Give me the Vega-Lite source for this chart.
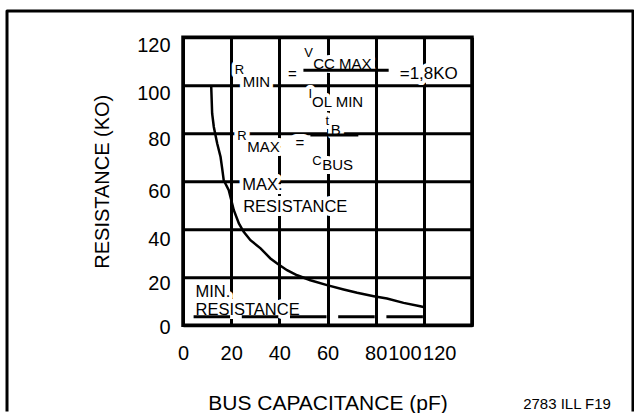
{
  "$schema": "https://vega.github.io/schema/vega-lite/v6.json",
  "width": 289,
  "height": 288,
  "padding": {"left": 5, "top": 9.2, "right": 0, "bottom": 0},
  "background": "white",
  "config": {
    "font": "Liberation Sans",
    "view": {"stroke": "black", "strokeWidth": 3.5},
    "text": {"font": "Liberation Sans"}
  },
  "datasets": {
    "curve": [
      {"c": 11.7, "r": 100}, {"c": 11.8, "r": 97}, {"c": 12.1, "r": 88.2}, {"c": 12.8, "r": 82.6},
      {"c": 14.2, "r": 75.7}, {"c": 15.6, "r": 70.1}, {"c": 16.3, "r": 65}, {"c": 16.9, "r": 60.4},
      {"c": 19, "r": 56.3}, {"c": 21.1, "r": 47.9}, {"c": 23.2, "r": 42.4}, {"c": 25.2, "r": 38.9},
      {"c": 28, "r": 35.4}, {"c": 32.2, "r": 32}, {"c": 36.3, "r": 27.8}, {"c": 39.1, "r": 25.7},
      {"c": 43.2, "r": 22.9}, {"c": 47.4, "r": 20.8}, {"c": 52.9, "r": 18.75}, {"c": 59.8, "r": 16.7},
      {"c": 66.7, "r": 14.9}, {"c": 72.3, "r": 13.5}, {"c": 79.2, "r": 12.1}, {"c": 84.7, "r": 11.1},
      {"c": 91.6, "r": 9.3}, {"c": 98.5, "r": 7.9}, {"c": 99.8, "r": 7.6}
    ],
    "minline": [{"c": 4.4, "r": 3.5}, {"c": 100.2, "r": 3.5}],
    "bars": [
      {"c": 50.0, "c2": 85.4, "r": 106.25},
      {"c": 52.9, "c2": 72.8, "r": 79.2}
    ],
    "frame": [
      {"c": -73.08, "r": -36, "k": 0},
      {"c": -73.08, "r": 130.96, "k": 1},
      {"c": 186.85, "r": 130.96, "k": 2},
      {"c": 186.85, "r": -36, "k": 3}
    ],
    "notes": [
      {"text": "R", "c": 21.5, "r": 104.6, "role": "sym"},
      {"text": "MIN", "c": 24.8, "r": 99.3, "role": "sub"},
      {"text": "=", "c": 43.6, "r": 102.5, "role": "eq"},
      {"text": "V", "c": 50.3, "r": 111.9, "role": "sym"},
      {"text": "CC MAX", "c": 54.1, "r": 106.7, "role": "sub"},
      {"text": "I", "c": 52.1, "r": 94.6, "role": "sym"},
      {"text": "OL MIN", "c": 53.6, "r": 91, "role": "sub"},
      {"text": "=1,8KO", "c": 90, "r": 102.4, "role": "val"},
      {"text": "R", "c": 22.5, "r": 77.1, "role": "sym"},
      {"text": "MAX", "c": 26.7, "r": 72.2, "role": "sub"},
      {"text": "=", "c": 46.7, "r": 73.9, "role": "eq"},
      {"text": "t", "c": 59.2, "r": 83.3, "role": "sym"},
      {"text": "B", "c": 61.3, "r": 79.2, "role": "sub"},
      {"text": "C", "c": 53.7, "r": 66.7, "role": "sym"},
      {"text": "BUS", "c": 57.8, "r": 64.6, "role": "sub"},
      {"text": "MAX.", "c": 24.6, "r": 56.25, "role": "lbl"},
      {"text": "RESISTANCE", "c": 25, "r": 47.2, "role": "lbl"},
      {"text": "MIN.", "c": 5.2, "r": 11.8, "role": "lbl"},
      {"text": "RESISTANCE", "c": 5.2, "r": 4.2, "role": "lbl"}
    ],
    "ref": [
      {"text": "2783 ILL F19", "c": 177.7, "r": -35}
    ]
  },
  "encoding": {
    "x": {
      "field": "c", "type": "quantitative", "title": "BUS CAPACITANCE (pF)",
      "scale": {"domain": [0, 120], "nice": false, "zero": true},
      "axis": {
        "values": [0, 20, 40, 60, 80, 100, 120], "format": "d",
        "grid": true, "gridColor": "black", "gridWidth": 3, "gridOpacity": 1,
        "domain": false, "ticks": false,
        "labelFontSize": 20, "labelColor": "black", "labelPadding": 18,
        "labelFlush": false, "labelOverlap": false, "labelBound": false,
        "labelOffset": {"condition": [{"test": "datum.value == 100", "value": -19.5}, {"test": "datum.value == 120", "value": -32.7}], "value": 0},
        "titleFontSize": 21, "titleFontWeight": "normal", "titleColor": "black", "titlePadding": 29
      }
    },
    "y": {
      "field": "r", "type": "quantitative", "title": "RESISTANCE (KO)",
      "scale": {"domain": [0, 120], "nice": false, "zero": true},
      "axis": {
        "values": [0, 20, 40, 60, 80, 100, 120], "format": "d",
        "grid": true, "gridColor": "black", "gridWidth": 3, "gridOpacity": 1,
        "domain": false, "ticks": false,
        "labelFontSize": 20, "labelColor": "black", "labelPadding": 13,
        "labelOverlap": false, "labelBound": false, "labelFlush": false,
        "labelOffset": {"condition": [{"test": "datum.value == 0", "value": 2}, {"test": "datum.value == 20 || datum.value == 80", "value": 6}, {"test": "datum.value == 40 || datum.value == 60", "value": 10}], "value": 8},
        "titleFontSize": 20, "titleFontWeight": "normal", "titleColor": "black", "titlePadding": 24
      }
    }
  },
  "layer": [
    {"data": {"name": "notes"}, "transform": [{"filter": "datum.role == 'sym'"}],
     "mark": {"type": "text", "align": "left", "baseline": "alphabetic", "fontSize": 13, "fill": "white", "stroke": "white", "strokeWidth": 8, "strokeJoin": "round"},
     "encoding": {"text": {"field": "text"}}},
    {"data": {"name": "notes"}, "transform": [{"filter": "datum.role == 'sub'"}],
     "mark": {"type": "text", "align": "left", "baseline": "alphabetic", "fontSize": 15, "fill": "white", "stroke": "white", "strokeWidth": 8, "strokeJoin": "round"},
     "encoding": {"text": {"field": "text"}}},
    {"data": {"name": "notes"}, "transform": [{"filter": "datum.role == 'eq'"}],
     "mark": {"type": "text", "align": "left", "baseline": "alphabetic", "fontSize": 15, "fill": "white", "stroke": "white", "strokeWidth": 12, "strokeJoin": "round"},
     "encoding": {"text": {"field": "text"}}},
    {"data": {"name": "notes"}, "transform": [{"filter": "datum.role == 'val'"}],
     "mark": {"type": "text", "align": "left", "baseline": "alphabetic", "fontSize": 17, "fill": "white", "stroke": "white", "strokeWidth": 8, "strokeJoin": "round"},
     "encoding": {"text": {"field": "text"}}},
    {"data": {"name": "notes"}, "transform": [{"filter": "datum.role == 'lbl'"}],
     "mark": {"type": "text", "align": "left", "baseline": "alphabetic", "fontSize": 16.5, "fill": "white", "stroke": "white", "strokeWidth": 8, "strokeJoin": "round"},
     "encoding": {"text": {"field": "text"}}},
    {
      "data": {"name": "curve"},
      "mark": {"type": "line", "color": "black", "strokeWidth": 2.5}
    },
    {
      "data": {"name": "minline"},
      "mark": {"type": "line", "color": "black", "strokeWidth": 3, "strokeDash": [36.5, 11.7]}
    },
    {
      "data": {"name": "bars"},
      "mark": {"type": "rule", "color": "black", "strokeWidth": 3},
      "encoding": {"x2": {"field": "c2"}}
    },
    {"data": {"name": "notes"}, "transform": [{"filter": "datum.role == 'sym'"}],
     "mark": {"type": "text", "align": "left", "baseline": "alphabetic", "fontSize": 13, "color": "black"},
     "encoding": {"text": {"field": "text"}}},
    {"data": {"name": "notes"}, "transform": [{"filter": "datum.role == 'sub' || datum.role == 'eq'"}],
     "mark": {"type": "text", "align": "left", "baseline": "alphabetic", "fontSize": 15, "color": "black"},
     "encoding": {"text": {"field": "text"}}},
    {"data": {"name": "notes"}, "transform": [{"filter": "datum.role == 'val'"}],
     "mark": {"type": "text", "align": "left", "baseline": "alphabetic", "fontSize": 17, "color": "black"},
     "encoding": {"text": {"field": "text"}}},
    {"data": {"name": "notes"}, "transform": [{"filter": "datum.role == 'lbl'"}],
     "mark": {"type": "text", "align": "left", "baseline": "alphabetic", "fontSize": 16.5, "color": "black"},
     "encoding": {"text": {"field": "text"}}},
    {"data": {"name": "ref"},
     "mark": {"type": "text", "align": "right", "baseline": "alphabetic", "fontSize": 15, "color": "black"},
     "encoding": {"text": {"field": "text"}}},
    {
      "data": {"name": "frame"},
      "mark": {"type": "line", "color": "black", "strokeWidth": 3, "strokeJoin": "round"},
      "encoding": {"order": {"field": "k", "type": "quantitative"}}
    }
  ]
}
